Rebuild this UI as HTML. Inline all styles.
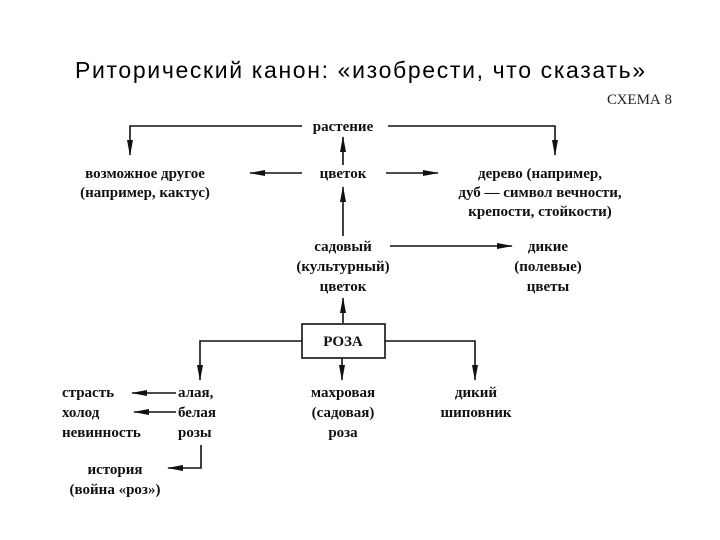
<!DOCTYPE html>
<html><head><meta charset="utf-8"><style>
html,body{margin:0;padding:0;background:#fff;}
svg{display:block}
.t{font-family:"Liberation Serif","DejaVu Serif",serif;font-weight:bold;font-size:15px;fill:#111}
</style></head><body>
<svg width="720" height="540" viewBox="0 0 720 540" xmlns="http://www.w3.org/2000/svg">
<defs><marker id="a" markerWidth="10" markerHeight="6" refX="9" refY="3" orient="auto" markerUnits="userSpaceOnUse"><path d="M0,0 L10,3 L0,6 Z" fill="#111"/></marker>
<marker id="b" markerWidth="16" markerHeight="7" refX="15" refY="3.5" orient="auto" markerUnits="userSpaceOnUse"><path d="M0,0.5 L16,3.5 L0,6.5 Z" fill="#111"/></marker></defs>
<text x="360" y="78" text-anchor="middle" style="font-family:'Liberation Sans','DejaVu Sans',sans-serif;font-size:23px;fill:#000" textLength="570">Риторический канон: «изобрести, что сказать»</text>
<text x="672" y="104" text-anchor="end" style="font-family:'Liberation Serif',serif;font-size:15px;fill:#222">СХЕМА 8</text>
<g class="t" text-anchor="middle">
<text x="343" y="131" class="t">растение</text>
<text x="145" y="178" class="t">возможное другое</text>
<text x="145" y="197" class="t">(например, кактус)</text>
<text x="343" y="178" class="t">цветок</text>
<text x="540" y="178" class="t">дерево (например,</text>
<text x="540" y="197" class="t">дуб — символ вечности,</text>
<text x="540" y="216" class="t">крепости, стойкости)</text>
<text x="343" y="251" class="t">садовый</text>
<text x="343" y="271" class="t">(культурный)</text>
<text x="343" y="291" class="t">цветок</text>
<text x="548" y="251" class="t">дикие</text>
<text x="548" y="271" class="t">(полевые)</text>
<text x="548" y="291" class="t">цветы</text>
<text x="343" y="346" class="t">РОЗА</text>
<text x="343" y="397" class="t">махровая</text>
<text x="343" y="417" class="t">(садовая)</text>
<text x="343" y="437" class="t">роза</text>
<text x="476" y="397" class="t">дикий</text>
<text x="476" y="417" class="t">шиповник</text>
<text x="115" y="474" class="t">история</text>
<text x="115" y="494" class="t">(война «роз»)</text>
</g>
<g class="t">
<text x="62" y="397" class="t">страсть</text>
<text x="62" y="417" class="t">холод</text>
<text x="62" y="437" class="t">невинность</text>
<text x="178" y="397" class="t">алая,</text>
<text x="178" y="417" class="t">белая</text>
<text x="178" y="437" class="t">розы</text>
</g>
<g stroke="#111" stroke-width="1.6" fill="none">
<polyline points="302,126 130,126 130,155" marker-end="url(#b)"/>
<polyline points="388,126 555,126 555,155" marker-end="url(#b)"/>
<line x1="343" y1="165" x2="343" y2="137" marker-end="url(#b)"/>
<line x1="302" y1="173" x2="250" y2="173" marker-end="url(#b)"/>
<line x1="386" y1="173" x2="438" y2="173" marker-end="url(#b)"/>
<line x1="343" y1="236" x2="343" y2="187" marker-end="url(#b)"/>
<line x1="390" y1="246" x2="512" y2="246" marker-end="url(#b)"/>
<line x1="343" y1="323" x2="343" y2="298" marker-end="url(#b)"/>
<rect x="302" y="324" width="83" height="34"/>
<polyline points="302,341 200,341 200,380" marker-end="url(#b)"/>
<polyline points="385,341 475,341 475,380" marker-end="url(#b)"/>
<line x1="342" y1="358" x2="342" y2="380" marker-end="url(#b)"/>
<line x1="176" y1="393" x2="132" y2="393" marker-end="url(#b)"/>
<line x1="176" y1="412" x2="134" y2="412" marker-end="url(#b)"/>
<polyline points="201,445 201,468 168,468" marker-end="url(#b)"/>
</g>
</svg>
</body></html>
